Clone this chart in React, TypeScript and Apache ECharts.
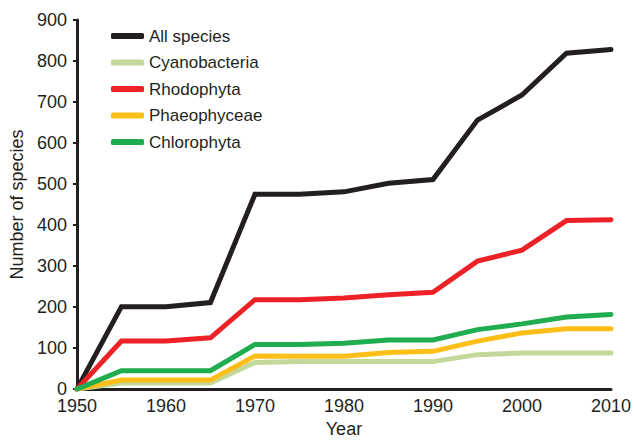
import React, { useEffect, useRef } from "react";
import * as echarts from "echarts";

const years = ["1950", "1955", "1960", "1965", "1970", "1975", "1980", "1985", "1990", "1995", "2000", "2005", "2010"];
const allSpecies = [0, 201, 201, 211, 475, 475, 481, 502, 511, 656, 717, 819, 828];
const cyanobacteria = [0, 15, 15, 15, 65, 67, 67, 67, 67, 84, 88, 88, 88];
const rhodophyta = [0, 117, 117, 125, 218, 218, 222, 230, 236, 312, 339, 411, 413];
const phaeophyceae = [0, 22, 22, 22, 81, 80, 80, 89, 92, 117, 137, 147, 147];
const chlorophyta = [0, 45, 45, 45, 109, 109, 112, 120, 120, 145, 159, 176, 182];

const seriesNames = ["All species", "Cyanobacteria", "Rhodophyta", "Phaeophyceae", "Chlorophyta"];
const seriesData = [allSpecies, cyanobacteria, rhodophyta, phaeophyceae, chlorophyta];
const colors = ["#231f20", "#c3d89a", "#ec2227", "#fdbf17", "#20ad4f"];

export default function App() {
  const ref = useRef<HTMLDivElement>(null);
  useEffect(() => {
    if (!ref.current) return;
    const chart = echarts.init(ref.current, null, { renderer: "svg" });
    const font = "'Liberation Sans', Arial, sans-serif";
    chart.setOption({
      animation: false,
      color: colors,
      textStyle: { fontFamily: font },
      grid: { left: 76, right: 19, top: 20, bottom: 51 },
      legend: {
        orient: "vertical",
        left: 106,
        top: 22,
        icon: "roundRect",
        itemWidth: 33,
        itemHeight: 6,
        itemGap: 8.5,
        data: seriesNames,
        textStyle: { fontSize: 17, color: "#231f20", fontFamily: font, lineHeight: 18 },
      },
      xAxis: {
        type: "category",
        data: years,
        boundaryGap: false,
        name: "Year",
        nameLocation: "middle",
        nameGap: 28,
        nameTextStyle: { fontSize: 18, color: "#231f20", fontFamily: font },
        axisLine: { lineStyle: { color: "#231f20", width: 3 } },
        axisTick: { show: false },
        axisLabel: {
          fontSize: 18,
          color: "#231f20",
          margin: 8,
          interval: (i: number) => i % 2 === 0,
        },
      },
      yAxis: {
        type: "value",
        min: 0,
        max: 900,
        interval: 100,
        name: "Number of species",
        nameLocation: "middle",
        nameGap: 50,
        nameTextStyle: { fontSize: 18, color: "#231f20", fontFamily: font },
        axisLine: { show: true, lineStyle: { color: "#231f20", width: 3 } },
        axisTick: { show: true, length: 4, lineStyle: { color: "#231f20", width: 2 } },
        axisLabel: { fontSize: 18, color: "#231f20", margin: 10 },
        splitLine: { show: false },
      },
      series: seriesNames.map((name, i) => ({
        name,
        type: "line",
        data: seriesData[i],
        showSymbol: false,
        symbol: "none",
        lineStyle: { width: 5, color: colors[i], cap: "round", join: "miter" },
        itemStyle: { color: colors[i] },
      })),
    });
    return () => chart.dispose();
  }, []);
  return <div ref={ref} style={{ width: 634, height: 443, position: "absolute", left: 0, top: 0 }} />;
}
